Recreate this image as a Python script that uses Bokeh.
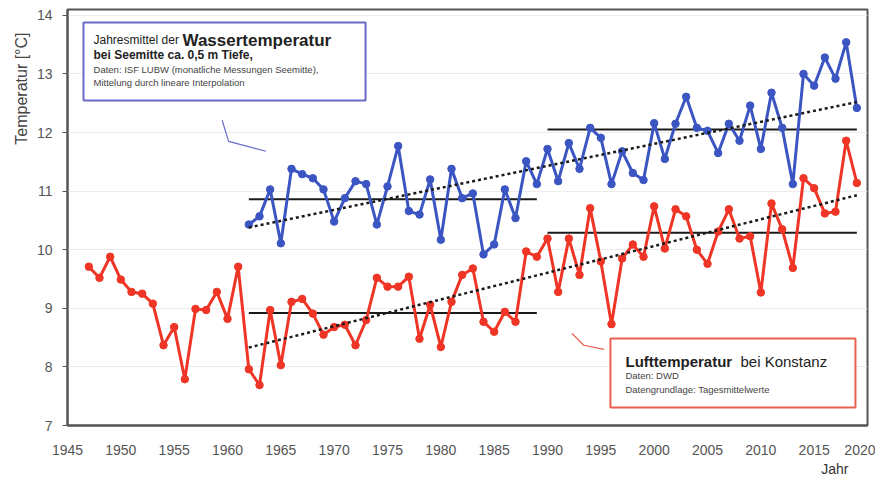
import math
from bokeh.plotting import figure
from bokeh.models import Range1d, FixedTicker, BoxAnnotation, Label, Title
from bokeh.embed import file_html
from bokeh.resources import INLINE

# ---- data ----
years_air = list(range(1947, 2020))
air_temp = [9.71, 9.52, 9.88, 9.49, 9.28, 9.25, 9.08, 8.37, 8.68, 7.79,
            8.99, 8.97, 9.28, 8.82, 9.71, 7.96, 7.69, 8.97, 8.03, 9.11,
            9.16, 8.91, 8.55, 8.68, 8.72, 8.37, 8.80, 9.52, 9.37, 9.37,
            9.54, 8.48, 9.06, 8.34, 9.11, 9.57, 9.68, 8.77, 8.60, 8.94,
            8.77, 9.97, 9.88, 10.19, 9.28, 10.19, 9.57, 10.71, 9.80, 8.73,
            9.85, 10.09, 9.88, 10.74, 10.02, 10.69, 10.57, 10.00, 9.76, 10.31,
            10.69, 10.19, 10.23, 9.27, 10.79, 10.35, 9.69, 11.22, 11.05, 10.62,
            10.65, 11.86, 11.14]

years_water = list(range(1962, 2020))
water_temp = [10.43, 10.57, 11.03, 10.11, 11.38, 11.29, 11.22, 11.03, 10.48, 10.88,
              11.17, 11.12, 10.43, 11.08, 11.77, 10.66, 10.60, 11.20, 10.17, 11.38,
              10.88, 10.96, 9.92, 10.09, 11.03, 10.54, 11.51, 11.12, 11.72, 11.17,
              11.82, 11.38, 12.08, 11.91, 11.12, 11.68, 11.31, 11.19, 12.16, 11.55,
              12.15, 12.61, 12.08, 12.03, 11.65, 12.15, 11.86, 12.46, 11.72, 12.68,
              12.08, 11.12, 13.00, 12.80, 13.28, 12.92, 13.54, 12.42]

# period means
period1 = [1962, 1989]
period2 = [1990, 2019]
water_means = [10.86, 12.05]
air_means = [8.92, 10.29]

# linear trends (values at start/end year)
trend_years = [1962, 2019]
water_trend = [10.38, 12.52]
air_trend = [8.33, 10.93]

x_ticks = list(range(1945, 2021, 5))
y_ticks = list(range(7, 15))

BLUE = "#3b55c2"
RED = "#ee3526"
FONT = "Liberation Sans"

p = figure(frame_width=800, frame_height=416, output_backend="svg",
           toolbar_location=None, min_border_left=67, min_border_right=8,
           min_border_top=9, min_border_bottom=58,
           x_range=Range1d(1945, 2020), y_range=Range1d(7, 14.1))
p.background_fill_color = "white"
p.border_fill_color = "white"
p.outline_line_color = "#555555"
p.outline_line_width = 2

p.xgrid.grid_line_color = None
p.ygrid.grid_line_color = "#ececec"
p.ygrid.ticker = FixedTicker(ticks=y_ticks)

p.xaxis.ticker = FixedTicker(ticks=x_ticks)
p.yaxis.ticker = FixedTicker(ticks=y_ticks)
for ax in (p.xaxis, p.yaxis):
    ax.axis_line_color = "#555555"
    ax.axis_line_width = 2
    ax.major_label_text_font = FONT
    ax.major_label_text_font_size = "14px"
    ax.major_label_text_color = "#555555"
    ax.minor_tick_line_color = None
p.xaxis.major_tick_line_color = None
p.xaxis.major_label_standoff = 13
p.yaxis.major_tick_line_color = "#555555"
p.yaxis.major_tick_out = 5
p.yaxis.major_tick_in = 0
p.yaxis.major_label_standoff = 10

# axis titles
p.add_layout(Title(text="Temperatur [°C]", align="right", offset=23,
                   text_font=FONT, text_font_size="16px", text_font_style="normal",
                   text_color="#444444", standoff=8), "left")
p.add_layout(Title(text="Jahr", align="right", offset=19,
                   text_font=FONT, text_font_size="14px", text_font_style="normal",
                   text_color="#333333", standoff=2), "below")

# mean lines
for per, v in ((period1, water_means[0]), (period2, water_means[1]),
               (period1, air_means[0]), (period2, air_means[1])):
    p.line(per, [v, v], line_color="#1a1a1a", line_width=2)

# series
p.line(years_air, air_temp, line_color=RED, line_width=3)
p.scatter(years_air, air_temp, size=7.5, fill_color=RED, line_color=RED)
p.line(years_water, water_temp, line_color=BLUE, line_width=3)
p.scatter(years_water, water_temp, size=7.5, fill_color=BLUE, line_color=BLUE)

# trends
p.line(trend_years, water_trend, line_color="#1a1a1a", line_width=2.5, line_dash="3 3")
p.line(trend_years, air_trend, line_color="#1a1a1a", line_width=2.5, line_dash="3 3")

# legend boxes
p.add_layout(BoxAnnotation(left=1946.5, right=1972.94, top=13.878, bottom=12.547,
                           fill_color="white", fill_alpha=1.0,
                           line_color="#6a6ac8", line_width=2, line_alpha=1.0))
p.add_layout(BoxAnnotation(left=1995.9, right=2018.87, top=8.485, bottom=7.307,
                           fill_color="white", fill_alpha=1.0,
                           line_color="#e8604f", line_width=2, line_alpha=1.0))

def lab(x, y, t, size, bold=False, color="#222222", **kw):
    p.add_layout(Label(x=x, y=y, text=t, text_font=FONT, text_font_size=size,
                       text_font_style="bold" if bold else "normal",
                       text_color=color, text_baseline="middle", **kw))

lab(1947.44, 13.571, "Jahresmittel der", "12px")
lab(1955.78, 13.571, "Wassertemperatur", "17px", bold=True)
lab(1947.44, 13.315, "bei Seemitte ca. 0,5 m Tiefe,", "12px", bold=True)
lab(1947.44, 13.076, "Daten: ISF LUBW (monatliche Messungen Seemitte),", "9.5px", color="#444444")
lab(1947.44, 12.854, "Mittelung durch lineare Interpolation", "9.5px", color="#444444")

lab(1997.31, 8.10, "Lufttemperatur", "15px", bold=True)
lab(2008.09, 8.10, "bei Konstanz", "15px")
lab(1997.31, 7.85, "Daten: DWD", "9.5px", color="#444444")
lab(1997.31, 7.62, "Datengrundlage: Tagesmittelwerte", "9.5px", color="#444444")

# leader lines from boxes
p.line([1959.5, 1960.1, 1963.6], [12.21, 11.85, 11.68], line_color="#6a6ac8", line_width=1.2)
p.line([1992.3, 1993.4, 1995.3], [8.57, 8.37, 8.30], line_color="#e8604f", line_width=1.2)

open("out.html", "w").write(file_html(p, INLINE))
